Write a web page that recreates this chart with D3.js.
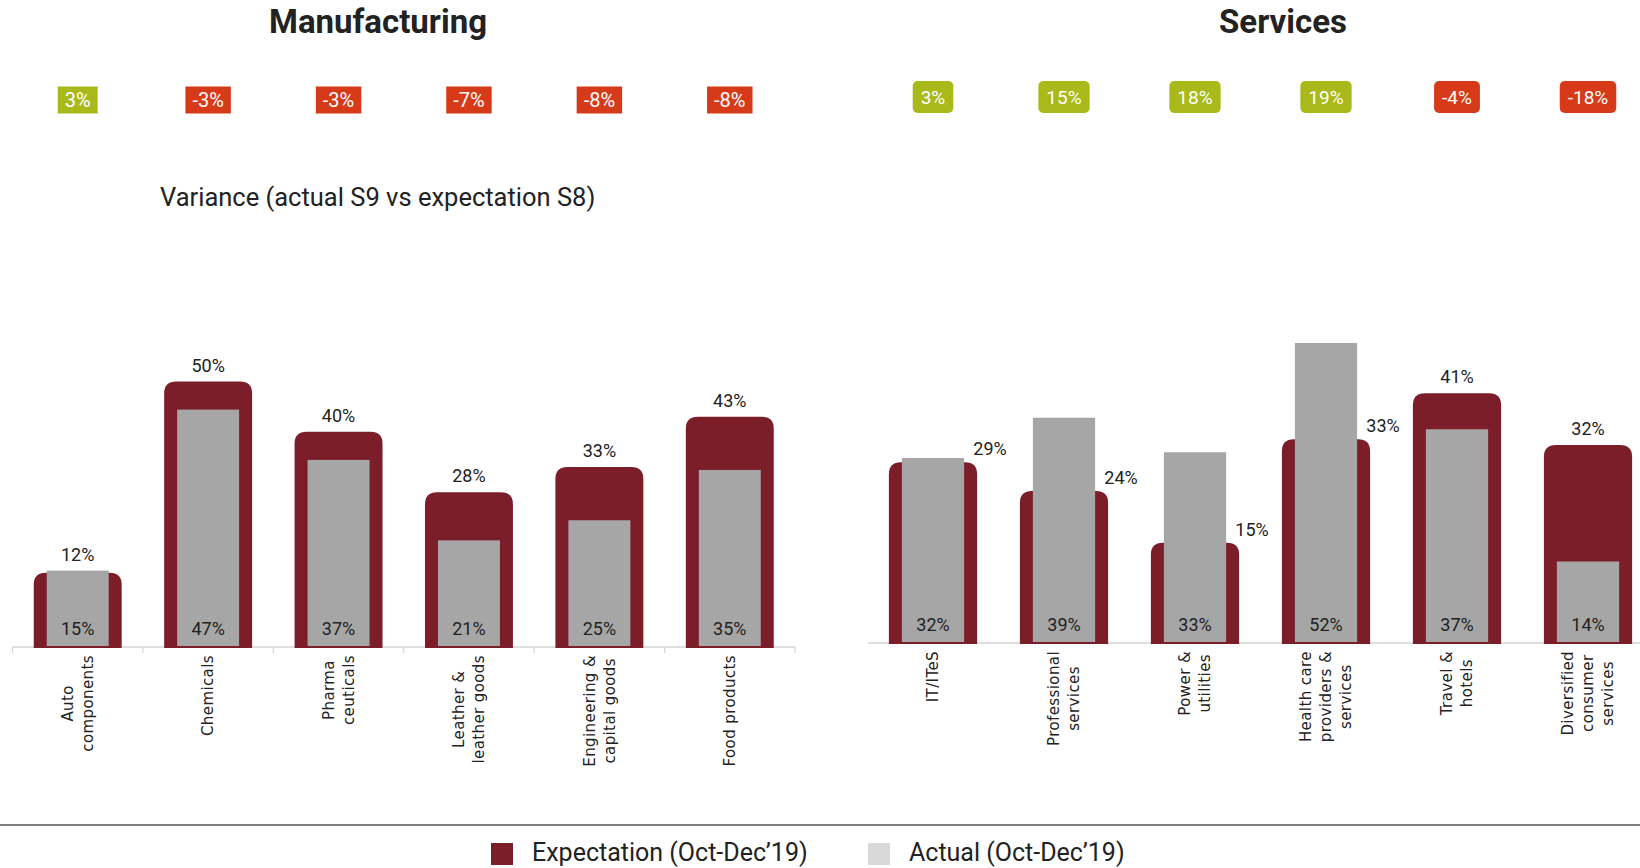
<!DOCTYPE html>
<html>
<head>
<meta charset="utf-8">
<script src="https://cdn.jsdelivr.net/npm/d3@7"></script>
<style>
  html, body { margin: 0; padding: 0; background: #fff; }
  svg { display: block; }
</style>
</head>
<body>
<svg id="chart" width="1640" height="868"></svg>
<script>
// ---- data ----
const mfgCategories = [["Auto", "components"], ["Chemicals"], ["Pharma", "ceuticals"],
  ["Leather &", "leather goods"], ["Engineering &", "capital goods"], ["Food products"]];
const mfgExpectation = [12, 50, 40, 28, 33, 43];
const mfgActual = [15, 47, 37, 21, 25, 35];
const mfgVariance = [3, -3, -3, -7, -8, -8];

const svcCategories = [["IT/ITeS"], ["Professional", "services"], ["Power &", "utilities"],
  ["Health care", "providers &", "services"], ["Travel &", "hotels"],
  ["Diversified", "consumer", "services"]];
const svcExpectation = [29, 24, 15, 33, 41, 32];
const svcActual = [32, 39, 33, 52, 37, 14];
const svcVariance = [3, 15, 18, 19, -4, -18];

const legendLabels = ["Expectation (Oct-Dec\u201919)", "Actual (Oct-Dec\u201919)"];

// ---- style ----
const C = {
  expect: "#7b1e2a",
  actual: "#a6a6a6",
  actualLegend: "#d9d9d9",
  up: "#a9b91a",
  down: "#d63a19",
  axis: "#d4d4d4",
  text: "#222"
};
const numFont = "'Liberation Sans Narrow', Roboto, sans-serif";
const bodyFont = "Roboto, 'Liberation Sans', sans-serif";
const catFont = "'DejaVu Sans', Verdana, sans-serif";

const svg = d3.select("#chart");

// path for a bar with rounded top corners
function roundTop(x, y, w, h, r) {
  r = Math.min(r, w / 2, h);
  return `M${x},${y + h}V${y + r}Q${x},${y} ${x + r},${y}H${x + w - r}Q${x + w},${y} ${x + w},${y + r}V${y + h}Z`;
}

function panel(cfg) {
  const idx = d3.range(cfg.categories.length);
  const x = d3.scaleBand().domain(idx).range(cfg.xRange).padding(0);
  const y = d3.scaleLinear().domain([0, cfg.yMax]).range([cfg.base, cfg.base - cfg.yMax * cfg.pxPer]);
  const step = x.bandwidth();
  const cx = i => x(i) + step / 2;
  const wA = step * 0.475;       // inner (actual) bar width
  const pad = 13;                // thick rim of the expectation bar
  const wE = wA + pad * 2;
  const expTop = i => y(cfg.expectation[i]) - pad;
  const g = svg.append("g");

  // title
  g.append("text").attr("x", cfg.titleX).attr("y", 33)
    .attr("text-anchor", "middle").attr("font-family", bodyFont)
    .attr("font-weight", 700).attr("font-size", 33).attr("fill", C.text)
    .text(cfg.title);

  // variance badges
  const badge = g.selectAll("g.badge").data(idx).join("g").attr("class", "badge");
  badge.append("text")
    .attr("x", cx).attr("y", cfg.badgeY)
    .attr("dy", "0.36em").attr("text-anchor", "middle")
    .attr("font-family", numFont)
    .attr("font-size", cfg.badgeFont).attr("fill", "#fff")
    .text(i => cfg.variance[i] + "%")
    .each(function (i) {
      const w = this.getComputedTextLength() + cfg.badgePad * 2;
      d3.select(this.parentNode).insert("rect", "text")
        .attr("x", cx(i) - w / 2).attr("y", cfg.badgeY - cfg.badgeH / 2)
        .attr("width", w).attr("height", cfg.badgeH)
        .attr("rx", cfg.badgeR).attr("ry", cfg.badgeR)
        .attr("fill", cfg.variance[i] >= 0 ? C.up : C.down);
    });

  // baseline
  g.append("line").attr("x1", cfg.lineX[0]).attr("x2", cfg.lineX[1])
    .attr("y1", cfg.base + 1).attr("y2", cfg.base + 1)
    .attr("stroke", C.axis).attr("stroke-width", 1.5);
  if (cfg.ticks) {
    const bounds = idx.map(i => x(i)).concat([x(idx[idx.length - 1]) + step]);
    g.selectAll("line.tick").data(bounds).join("line").attr("class", "tick")
      .attr("x1", d => d).attr("x2", d => d)
      .attr("y1", cfg.base + 1).attr("y2", cfg.base + 7)
      .attr("stroke", C.axis).attr("stroke-width", 1.2);
  }

  // expectation bars (value bar with a thick rounded rim)
  g.selectAll("path.exp").data(idx).join("path").attr("class", "exp")
    .attr("d", i => roundTop(cx(i) - wE / 2, expTop(i), wE, cfg.base + 2 - expTop(i), 12))
    .attr("fill", C.expect);

  // actual bars
  g.selectAll("rect.act").data(idx).join("rect").attr("class", "act")
    .attr("x", i => cx(i) - wA / 2).attr("y", i => y(cfg.actual[i]))
    .attr("width", wA).attr("height", i => cfg.base - y(cfg.actual[i]))
    .attr("fill", C.actual);

  // expectation labels
  const shifted = i => cfg.shiftRight && cfg.actual[i] > cfg.expectation[i];
  g.selectAll("text.expLbl").data(idx).join("text").attr("class", "expLbl")
    .attr("x", i => shifted(i) ? cx(i) + 57 : cx(i))
    .attr("y", i => shifted(i) ? expTop(i) - 7 : Math.min(expTop(i), y(cfg.actual[i])) - 10)
    .attr("text-anchor", "middle").attr("font-family", numFont)
    .attr("font-size", 18).attr("fill", C.text)
    .text(i => cfg.expectation[i] + "%");

  // actual labels
  g.selectAll("text.actLbl").data(idx).join("text").attr("class", "actLbl")
    .attr("x", cx).attr("y", cfg.base - 11)
    .attr("text-anchor", "middle").attr("font-family", numFont)
    .attr("font-size", 18).attr("fill", C.text)
    .text(i => cfg.actual[i] + "%");

  // category labels, rotated
  idx.forEach(i => {
    const lines = cfg.categories[i];
    const cg = g.append("g")
      .attr("transform", `translate(${cx(i)},${cfg.base + 9}) rotate(-90)`);
    const t = cg.selectAll("text").data(lines).join("text")
      .attr("font-family", catFont).attr("font-size", 15).attr("fill", C.text)
      .attr("letter-spacing", 0.4)
      .attr("y", (d, j) => (j - (lines.length - 1) / 2) * 20)
      .attr("dy", "0.35em").attr("text-anchor", "middle")
      .text(d => d);
    let L = 0;
    t.each(function () { L = Math.max(L, this.getComputedTextLength()); });
    t.attr("x", -L / 2);
  });
}

panel({
  title: "Manufacturing", titleX: 378,
  categories: mfgCategories, expectation: mfgExpectation, actual: mfgActual, variance: mfgVariance,
  xRange: [12.5, 795], lineX: [12.5, 795], base: 646, yMax: 50, pxPer: 5.03,
  badgeY: 100, badgeH: 27, badgeR: 0, badgePad: 7, badgeFont: 20, ticks: true, shiftRight: false
});

panel({
  title: "Services", titleX: 1283,
  categories: svcCategories, expectation: svcExpectation, actual: svcActual, variance: svcVariance,
  xRange: [867.5, 1653.5], lineX: [868, 1640], base: 642, yMax: 52, pxPer: 5.75,
  badgeY: 97, badgeH: 32, badgeR: 5, badgePad: 8, badgeFont: 19, ticks: false, shiftRight: true
});

// subtitle
svg.append("text").attr("x", 160).attr("y", 206)
  .attr("font-family", bodyFont).attr("font-size", 25.5).attr("fill", C.text)
  .text("Variance (actual S9 vs expectation S8)");

// footer rule and legend
svg.append("line").attr("x1", 0).attr("x2", 1640).attr("y1", 825).attr("y2", 825)
  .attr("stroke", "#555").attr("stroke-width", 1.5);
const legend = svg.append("g");
const legendItems = [
  { label: legendLabels[0], color: C.expect, x: 491 },
  { label: legendLabels[1], color: C.actualLegend, x: 868 }
];
legendItems.forEach(d => {
  legend.append("rect").attr("x", d.x).attr("y", 843).attr("width", 22).attr("height", 22)
    .attr("fill", d.color);
  legend.append("text").attr("x", d.x + 41).attr("y", 861)
    .attr("font-family", numFont).attr("font-size", 25).attr("fill", C.text)
    .text(d.label);
});
</script>
</body>
</html>
